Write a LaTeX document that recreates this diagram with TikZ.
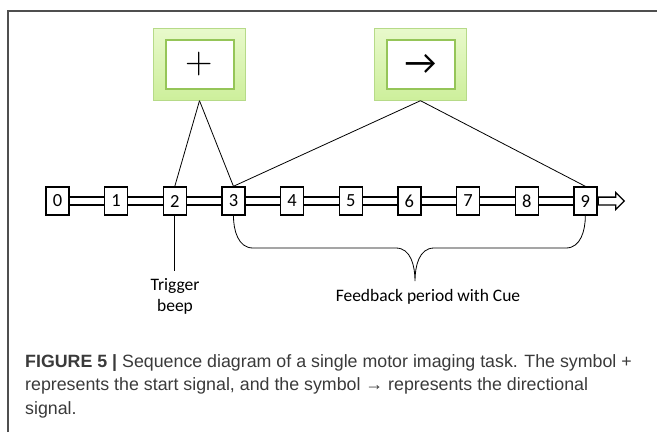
\documentclass[tikz,border=0pt]{standalone}
\usepackage{fontspec}
\setmainfont{Carlito}
\newfontfamily\capfont{Liberation Sans}
\newfontfamily\lmfont{Latin Modern Roman}
\usepackage{tikz}
\usetikzlibrary{positioning,shapes.arrows}
\definecolor{CueFillTop}{HTML}{E8F9CB}
\definecolor{CueFillBot}{HTML}{CDEF9B}
\definecolor{CueEdge}{HTML}{B6DA88}
\definecolor{CueInner}{HTML}{95C558}
\definecolor{FrameGray}{HTML}{4F4F4F}
\definecolor{CapGray}{HTML}{3A3A3A}

\begin{document}
\begin{tikzpicture}[
      x=1pt, y=-1pt,
      every node/.style={font=\fontsize{17.5}{21}\selectfont, align=center},
      numbox/.style={draw, fill=white, line width=1.4pt, minimum width=23pt, minimum height=28pt, inner sep=0pt,
                     font=\fontsize{18.5}{20}\selectfont},
      link/.style={draw, line width=1.3pt, double=white, double distance=6.5pt},
      headarrow/.style={single arrow, draw, fill=white, line width=1.3pt, inner sep=0pt, inner ysep=3.25pt,
                        minimum height=26pt, single arrow head extend=4.5pt, single arrow tip angle=90},
      cue/.style={draw=CueEdge, top color=CueFillTop, bottom color=CueFillBot, minimum width=92pt, minimum height=72pt},
      cuesym/.style={draw=CueInner, fill=white, line width=2pt, minimum width=68pt, minimum height=49pt, inner sep=0pt},
      thinline/.style={line width=0.8pt}
    ]
      \useasboundingbox (0,0) rectangle (657,432);

      % frame
      \draw[FrameGray, line width=1.3pt] (8,432) |- (657,11);

      % cue panels
      \node[cue] (startcue) at (199.5,64.5) {};
      \node[cuesym, font=\lmfont\fontsize{38}{38}\selectfont] (startsym) at (startcue) {+};
      \node[cue] (dircue) at (420.5,64.5) {};
      \node[cuesym, font=\fontsize{35}{35}\selectfont] (dirsym) at (dircue) {→};

      % time steps
      \foreach \i in {0,...,9}
        \node[numbox] (b\i) at ({57.5+58.65*\i},201) {\i};
      \foreach \i [count=\j from 1] in {0,...,8}
        \draw[link] (b\i) -- (b\j);
      \node[headarrow, right=0pt of b9] (tip) {};

      % cue onsets
      \draw[thinline] (startcue.south) -- (b2.north);
      \draw[thinline] (startcue.south) -- (b3.north);
      \draw[thinline] (dircue.south) -- (b3.north);
      \draw[thinline] (dircue.south) -- (b9.north);

      % trigger
      \node[inner sep=0pt] (trigger) at (175,296) {Trigger\\beep};
      \draw[thinline] (b2.south) -- ++(0,55);

      % feedback brace
      \coordinate (bracetip) at (415,281);
      \draw[thinline] (b3.south) to[out=-90,in=180] (253,248) -- (396,248)
        to[out=0,in=90] (bracetip) to[out=90,in=180] (434,248) -- (566,248)
        to[out=0,in=-90] (b9.south);
      \node (feedback) at (428,297) {Feedback period with Cue};

      % caption
      \node[anchor=north west, inner sep=0pt, align=left, text=CapGray,
            font=\capfont\fontsize{17.8}{23.5}\selectfont] (caption) at (25,354)
        {\textbf{FIGURE 5 |} Sequence diagram of a single motor imaging task. The symbol +\\
         represents the start signal, and the symbol → represents the directional\\
         signal.};
    \end{tikzpicture}
\end{document}
